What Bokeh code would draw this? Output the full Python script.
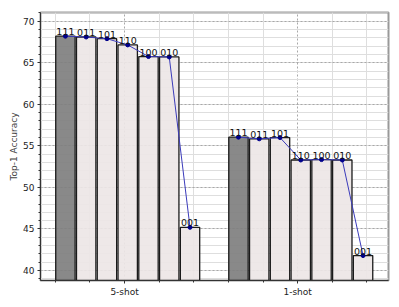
from bokeh.plotting import figure
from bokeh.models import FixedTicker, SingleIntervalTicker, Range1d, ColumnDataSource
from bokeh.core.properties import value
from bokeh.embed import file_html
from bokeh.resources import INLINE

groups = ["5-shot", "1-shot"]
group_pos = [0, 1]
combos = ["111", "011", "101", "110", "100", "010", "001"]
five_shot = [68.2, 68.1, 67.9, 67.15, 65.75, 65.7, 45.2]
one_shot = [56.05, 55.85, 56.0, 53.3, 53.35, 53.3, 41.8]
bar_step = 0.12
bar_width = 0.112
group_shift = 0.018

p = figure(width=391, height=299, output_backend="svg", toolbar_location=None,
           x_range=Range1d(-0.486, 1.525), y_range=Range1d(38.8, 71.05),
           min_border_left=40, min_border_right=3, min_border_top=12, min_border_bottom=18)

p.outline_line_color = "#999999"
p.outline_line_width = 2
p.background_fill_color = "white"

# grids
p.ygrid.ticker = SingleIntervalTicker(interval=5, num_minor_ticks=5)
p.ygrid.grid_line_color = "#a8a8a8"
p.ygrid.grid_line_dash = "2 2"
p.ygrid.minor_grid_line_color = "#dedede"
p.ygrid.minor_grid_line_width = 1
minor_x = [-0.4, -0.2, 0.2, 0.4, 0.6, 0.8, 1.2, 1.4]
p.xgrid.ticker = FixedTicker(ticks=group_pos, minor_ticks=minor_x)
p.xgrid.grid_line_color = "#a8a8a8"
p.xgrid.grid_line_dash = "2 2"
p.xgrid.minor_grid_line_color = "#dedede"

# axes
p.yaxis.ticker = SingleIntervalTicker(interval=5, num_minor_ticks=5)
p.yaxis.axis_label = "Top-1 Accuracy"
p.yaxis.axis_label_text_font = "DejaVu Sans"
p.yaxis.axis_label_text_font_size = "9px"
p.yaxis.axis_label_text_font_style = "normal"
p.yaxis.axis_label_standoff = 1
p.xaxis.ticker = FixedTicker(ticks=group_pos, minor_ticks=minor_x)
p.xaxis.major_label_overrides = {0: groups[0], 1: groups[1]}
for ax in (p.xaxis[0], p.yaxis[0]):
    ax.major_label_text_font = "DejaVu Sans"
    ax.major_label_text_font_size = "9px"
    ax.major_label_text_color = "#222222"
    ax.axis_line_color = "#333333"
    ax.major_tick_line_color = "#333333"
    ax.minor_tick_line_color = "#333333"
    ax.major_tick_out = 3
    ax.major_tick_in = 0
    ax.minor_tick_out = 2
    ax.minor_tick_in = 0
    ax.major_label_standoff = 3

dark = "#7f7f7f"
light = "#ede6e6"

for gpos, vals in zip(group_pos, [five_shot, one_shot]):
    xs = [gpos + (i - 3) * bar_step + group_shift for i in range(len(vals))]
    colors = [dark] + [light] * (len(vals) - 1)
    src = ColumnDataSource(dict(x=xs, top=vals, color=colors, label=combos))
    p.vbar(x="x", top="top", bottom=0, width=bar_width, source=src,
           fill_color="color", fill_alpha=0.92, line_color="#1a1a1a", line_width=1.3)
    p.line(x="x", y="top", source=src, line_color="#3b3bbb", line_width=1)
    p.scatter(x="x", y="top", source=src, size=4, color="#00008b")
    p.text(x="x", y="top", text="label", source=src, text_align="center",
           text_baseline="bottom", y_offset=-1, text_font=value("DejaVu Sans"),
           text_font_size="9.5px", text_color="#111111")

open("out.html", "w").write(file_html(p, INLINE))
